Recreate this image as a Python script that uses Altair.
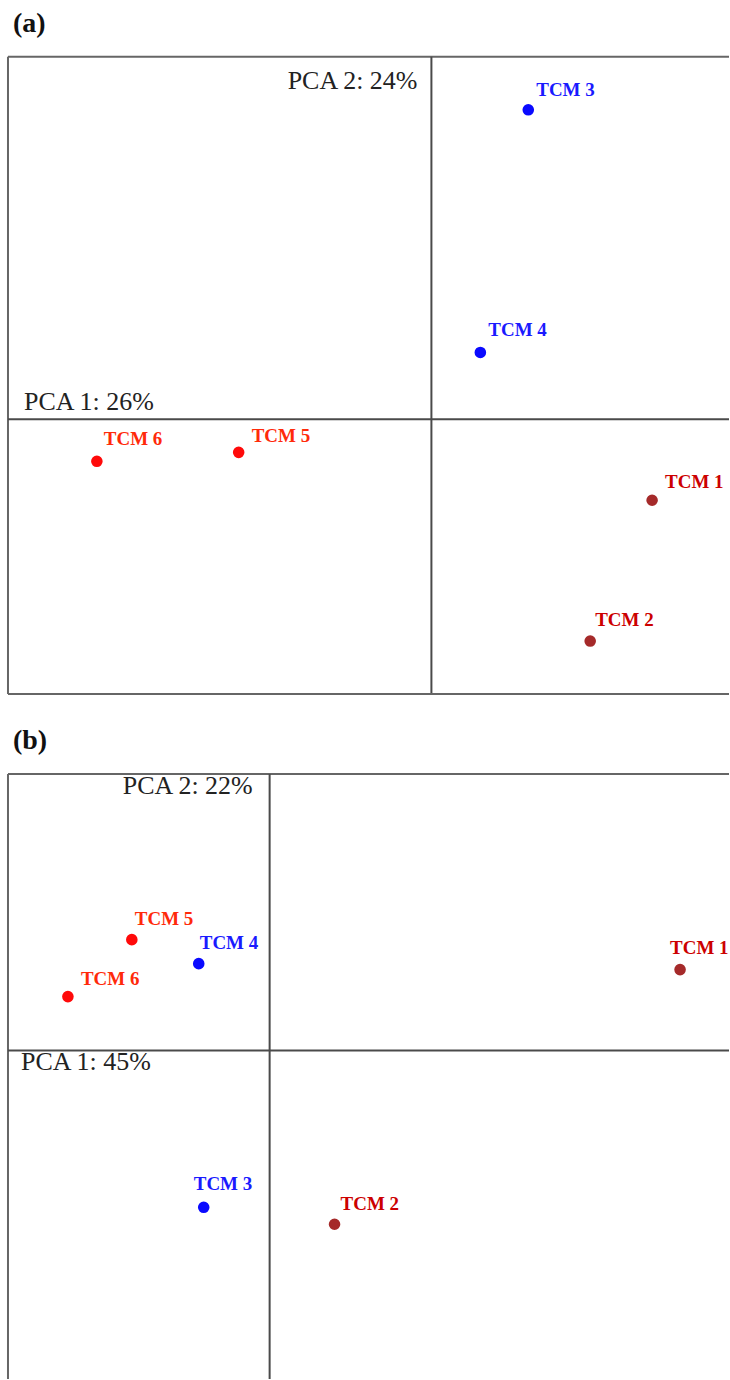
import altair as alt
import pandas as pd

# Sample names and their group (which sets the colour)
names = ["TCM 1", "TCM 2", "TCM 3", "TCM 4", "TCM 5", "TCM 6"]
groups = ["A", "A", "B", "B", "C", "C"]

# Panel (a) scores
a_pc1 = [2.21, 1.59, 0.97, 0.49, -1.93, -3.35]
a_pc2 = [-0.81, -2.22, 3.10, 0.67, -0.33, -0.42]

# Panel (b) scores
b_pc1 = [4.11, 0.65, -0.66, -0.71, -1.38, -2.02]
b_pc2 = [0.81, -1.74, -1.57, 0.87, 1.11, 0.54]

# Explained variance shown on each panel
a_var = ["PCA 1: 26%", "PCA 2: 24%"]
b_var = ["PCA 1: 45%", "PCA 2: 22%"]

# Label placement (pixels, relative to the point)
a_label_dx = [13, 5, 8, 8, 13, 7]
a_label_dy = [-18, -21, -20, -22, -16, -22]
b_label_dx = [-10, 6, -10, 1, 3, 13]
b_label_dy = [-22, -20, -23, -21, -21, -18]

group_order = ["A", "B", "C"]
point_colors = ["#a52a2a", "#0a0aff", "#ff0a0a"]
label_colors = ["#cc0000", "#1a1aff", "#ff2a0a"]

SERIF = "Liberation Serif"
LINE = "#4a4a4a"


def panel(tag, pc1, pc2, ldx, ldy, var, xdom, ydom, h, pc1_dy, pc1_dx,
          pc2_dy, pc2_dx, bottom_border):
    df = pd.DataFrame({"name": names, "group": groups, "pc1": pc1, "pc2": pc2})
    xs = alt.Scale(domain=xdom, nice=False, zero=False)
    ys = alt.Scale(domain=ydom, nice=False, zero=False)
    X = alt.X("pc1:Q", scale=xs, axis=None)
    Y = alt.Y("pc2:Q", scale=ys, axis=None)

    pts = alt.Chart(df).mark_point(filled=True, shape="circle", size=135, opacity=1).encode(
        x=X, y=Y,
        color=alt.Color("group:N", scale=alt.Scale(domain=group_order, range=point_colors),
                        legend=None),
    )
    labels = []
    for i, n in enumerate(names):
        labels.append(
            alt.Chart(df).transform_filter(alt.datum.name == n).mark_text(
                font=SERIF, fontWeight="bold", fontSize=19, align="left",
                baseline="middle", dx=ldx[i], dy=ldy[i],
                color=label_colors[group_order.index(groups[i])],
            ).encode(x=X, y=Y, text="name:N")
        )

    zero = pd.DataFrame({"v": [0.0]})
    vline = alt.Chart(zero).mark_rule(color=LINE, strokeWidth=2).encode(
        x=alt.X("v:Q", scale=xs, axis=None))
    hline = alt.Chart(zero).mark_rule(color=LINE, strokeWidth=2).encode(
        y=alt.Y("v:Q", scale=ys, axis=None))

    top = alt.Chart(pd.DataFrame({"v": [ydom[1]]})).mark_rule(color="#666", strokeWidth=2).encode(
        y=alt.Y("v:Q", scale=ys, axis=None))
    left = alt.Chart(pd.DataFrame({"v": [xdom[0]]})).mark_rule(color="#666", strokeWidth=2).encode(
        x=alt.X("v:Q", scale=xs, axis=None))
    layers = [top, left, vline, hline]
    if bottom_border:
        layers.append(alt.Chart(pd.DataFrame({"v": [ydom[0]]})).mark_rule(
            color="#666", strokeWidth=2).encode(y=alt.Y("v:Q", scale=ys, axis=None)))

    t1 = alt.Chart(pd.DataFrame({"x": [xdom[0]], "y": [0.0], "t": [var[0]]})).mark_text(
        font=SERIF, fontSize=26, color="#222", align="left", baseline="alphabetic",
        dx=pc1_dx, dy=pc1_dy).encode(
        x=alt.X("x:Q", scale=xs, axis=None), y=alt.Y("y:Q", scale=ys, axis=None), text="t:N")
    t2 = alt.Chart(pd.DataFrame({"x": [0.0], "y": [ydom[1]], "t": [var[1]]})).mark_text(
        font=SERIF, fontSize=26, color="#222", align="right", baseline="alphabetic",
        dx=pc2_dx, dy=pc2_dy).encode(
        x=alt.X("x:Q", scale=xs, axis=None), y=alt.Y("y:Q", scale=ys, axis=None), text="t:N")

    return alt.layer(*layers, t1, t2, pts, *labels).properties(
        width=722, height=h,
        title=alt.TitleParams(tag, anchor="start", font=SERIF, fontSize=28,
                              fontWeight="bold", color="#111", dx=6, offset=18),
    )


pa = panel("(a)", a_pc1, a_pc2, a_label_dx, a_label_dy, a_var,
           [-4.24, 2.98], [-2.75, 3.63], 638, -9, 16, 32, -14, True)
pb = panel("(b)", b_pc1, b_pc2, b_label_dx, b_label_dy, b_var,
           [-2.62, 4.60], [-3.29, 2.77], 606, 20, 13, 20, -17, False)

chart = alt.vconcat(pa, pb, spacing=32).properties(
    padding={"left": 7, "top": 9, "right": 0, "bottom": 0},
    background="white",
).configure_view(stroke=None)

chart.save("out.html", embed_options={"renderer": "svg", "actions": False})
